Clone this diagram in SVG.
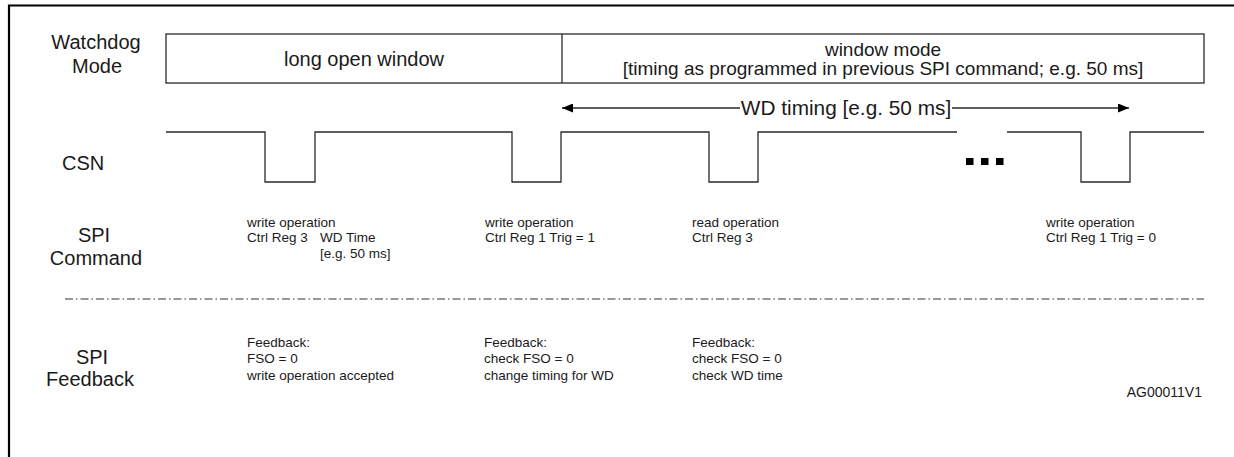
<svg xmlns="http://www.w3.org/2000/svg" width="1234" height="457" viewBox="0 0 1234 457">
<style>
text{font-family:"Liberation Sans",Arial,Helvetica,sans-serif;fill:#1a1a1a}
.lbl{font-size:20px;text-anchor:middle}
.big{font-size:20px}
.mid{font-size:19px;text-anchor:middle}
.sm{font-size:13.5px}
.ln{fill:none;stroke:#2a2a2a;stroke-width:1.3}
.frame{fill:none;stroke:#000;stroke-width:2.2}
.dd{fill:none;stroke:#333;stroke-width:1.2;stroke-dasharray:8 3 1.5 3}
</style>
<defs>
<marker id="ah" viewBox="0 0 11 9" refX="11" refY="4.5" markerWidth="11" markerHeight="9" markerUnits="userSpaceOnUse" orient="auto">
<path d="M0,0 L11,4.5 L0,9 Z" fill="#000"/>
</marker>
</defs>
<g id="frame">
<path class="frame" d="M9,457 V5.5 H1234"/>
</g>
<g id="watchdog-mode">
<text class="lbl" x="96" y="49">Watchdog</text>
<text class="lbl" x="97" y="73">Mode</text>
<rect class="ln" x="166" y="34" width="1038" height="49"/>
<line class="ln" x1="562" y1="34" x2="562" y2="83"/>
<text class="big" x="364" y="66" text-anchor="middle">long open window</text>
<text class="mid" x="883" y="56">window mode</text>
<text class="mid" x="883" y="75">[timing as programmed in previous SPI command; e.g. 50 ms]</text>
</g>
<g id="connectors">
<line class="ln" x1="740" y1="108" x2="562" y2="108" marker-end="url(#ah)"/>
<line class="ln" x1="952" y1="108" x2="1129" y2="108" marker-end="url(#ah)"/>
</g>
<g id="wd-timing">
<text x="846" y="115" font-size="20.8" text-anchor="middle">WD timing [e.g. 50 ms]</text>
</g>
<g id="csn">
<text class="big" x="62" y="170">CSN</text>
<path class="ln" d="M166,132 H265 V182 H315 V132 H512 V182 H561 V132 H709 V182 H758 V132 H957 M1007,132 H1081 V182 H1130 V132 H1204"/>
<rect x="966" y="158" width="7.5" height="7" fill="#000"/>
<rect x="981" y="158" width="7.5" height="7" fill="#000"/>
<rect x="996" y="158" width="7.5" height="7" fill="#000"/>
</g>
<g id="spi-command">
<text class="lbl" x="94" y="242">SPI</text>
<text class="lbl" x="96" y="265">Command</text>
<text class="sm" x="247" y="227">write operation</text>
<text class="sm" x="247" y="242">Ctrl Reg 3</text>
<text class="sm" x="320" y="242">WD Time</text>
<text class="sm" x="320" y="258">[e.g. 50 ms]</text>
<text class="sm" x="485" y="227">write operation</text>
<text class="sm" x="485" y="242">Ctrl Reg 1 Trig = 1</text>
<text class="sm" x="692" y="227">read operation</text>
<text class="sm" x="692" y="242">Ctrl Reg 3</text>
<text class="sm" x="1046" y="227">write operation</text>
<text class="sm" x="1046" y="242">Ctrl Reg 1 Trig = 0</text>
</g>
<g id="separator">
<line class="dd" x1="65" y1="299" x2="1204" y2="299"/>
</g>
<g id="spi-feedback">
<text class="lbl" x="92" y="364">SPI</text>
<text class="lbl" x="90" y="386">Feedback</text>
<text class="sm" x="247" y="347">Feedback:</text>
<text class="sm" x="247" y="363">FSO = 0</text>
<text class="sm" x="247" y="380">write operation accepted</text>
<text class="sm" x="484" y="347">Feedback:</text>
<text class="sm" x="484" y="363">check FSO = 0</text>
<text class="sm" x="484" y="380">change timing for WD</text>
<text class="sm" x="692" y="347">Feedback:</text>
<text class="sm" x="692" y="363">check FSO = 0</text>
<text class="sm" x="692" y="380">check WD time</text>
</g>
<g id="ref">
<text x="1202" y="397" font-size="14" text-anchor="end">AG00011V1</text>
</g>
</svg>
